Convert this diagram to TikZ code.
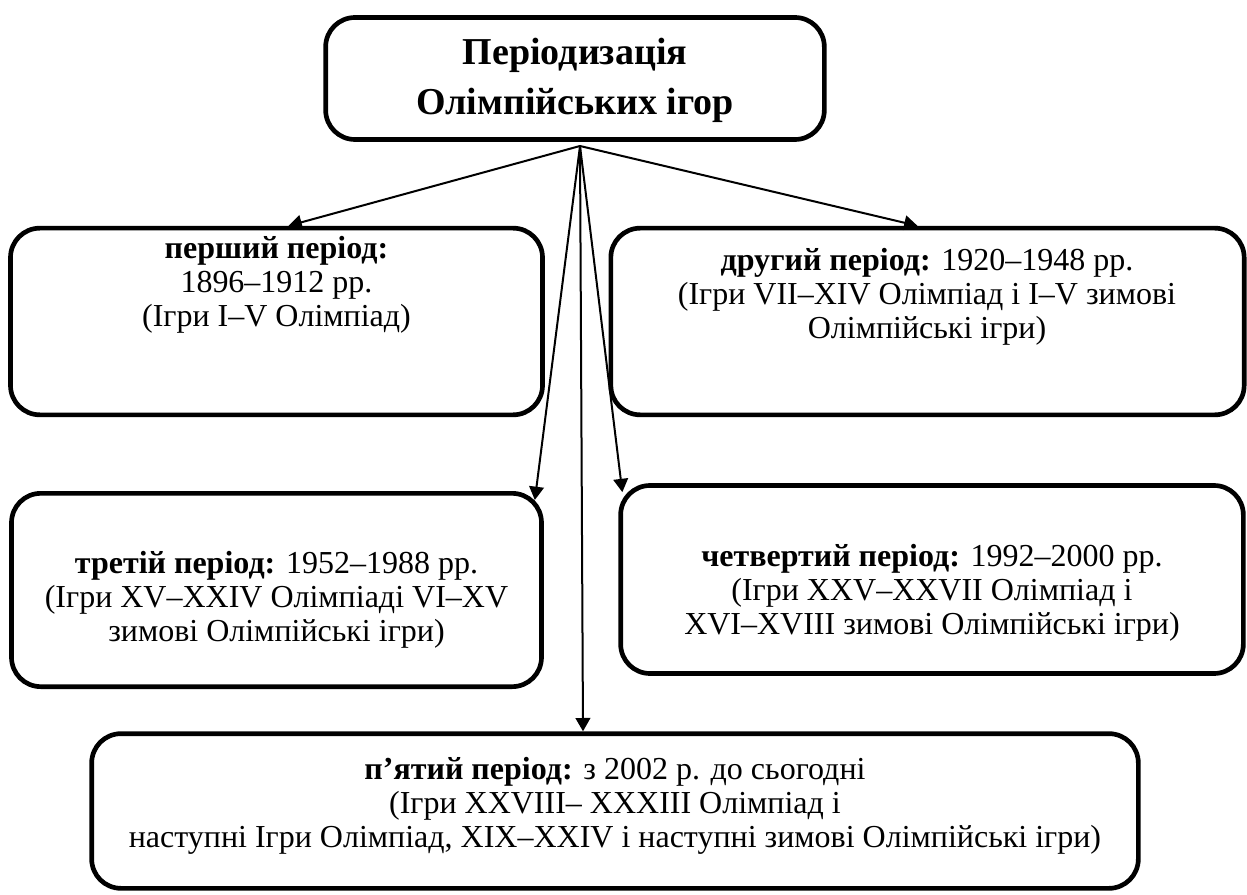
\documentclass[tikz,border=0pt]{standalone}
\usepackage{fontspec}
\setmainfont{Liberation Serif}
\usetikzlibrary{arrows.meta, calc}
\tikzset{
  periodbox/.style={draw, line width=3.5pt, rounded corners=22pt, inner sep=0pt},
  periodtext/.style={align=center, inner sep=0pt, font=\fontsize{24}{25.5}\selectfont},
  arr/.style={-{Triangle[length=10pt,width=11pt]}, line width=1.5pt}
}

\begin{document}
\begin{tikzpicture}[x=0.75pt, y=-0.75pt]
\useasboundingbox (0,0) rectangle (1247,895);
\node[periodbox, minimum width=374pt, minimum height=91.5pt] (title) at (575,78.5) {}; % назва
\node[align=center, inner sep=0pt, font=\fontsize{28.5}{37.5}\selectfont\bfseries] (titlet) at (575,80) {Періодизація\\Олімпійських ігор};
\node[periodbox, minimum width=399pt, minimum height=140pt] (p1) at (276.5,321.5) {};
\node[periodtext] (t1) at (276.5,285) {\textbf{перший період:}\\1896–1912 рр.\\(Ігри I–V Олімпіад)};
\node[periodbox, minimum width=475pt, minimum height=140pt] (p2) at (927.5,321.5) {};
\node[periodtext] (t2) at (927,297) {\textbf{другий період:} 1920–1948 рр.\\(Ігри VII–XIV Олімпіад і I–V зимові\\Олімпійські ігри)};
\node[periodbox, minimum width=397.5pt, minimum height=145pt] (p3) at (276.5,590) {};
\node[periodtext] (t3) at (276.5,600) {\textbf{третій період:} 1952–1988 рр.\\(Ігри XV–XXIV Олімпіаді VI–XV\\зимові Олімпійські ігри)};
\node[periodbox, minimum width=467pt, minimum height=141pt] (p4) at (932,579.5) {};
\node[periodtext] (t4) at (932,593) {\textbf{четвертий період:} 1992–2000 рр.\\(Ігри XXV–XXVII Олімпіад і\\XVI–XVIII зимові Олімпійські ігри)};
\node[periodbox, minimum width=785pt, minimum height=116pt] (p5) at (615,811) {};
\node[periodtext] (t5) at (615,806) {\textbf{п’ятий період:} з 2002 р. до сьогодні\\(Ігри XXVIII– XXXIII Олімпіад і\\наступні Ігри Олімпіад, XIX–XXIV і наступні зимові Олімпійські ігри)};
\coordinate (o) at (580,146); % звідси стрілки
\draw[arr] (o) -- ($(p1.north)+(12,0)$);
\draw[arr] (o) -- ($(p2.north)+(-10,0)$);
\draw[arr] (o) -- ($(p3.north east)+(-9,9)$);
\draw[arr] (o) -- ($(p4.north west)+(4,9)$);
\draw[arr] (o) -- ($(p5.north)+(-32,0)$);
\end{tikzpicture}
\end{document}
